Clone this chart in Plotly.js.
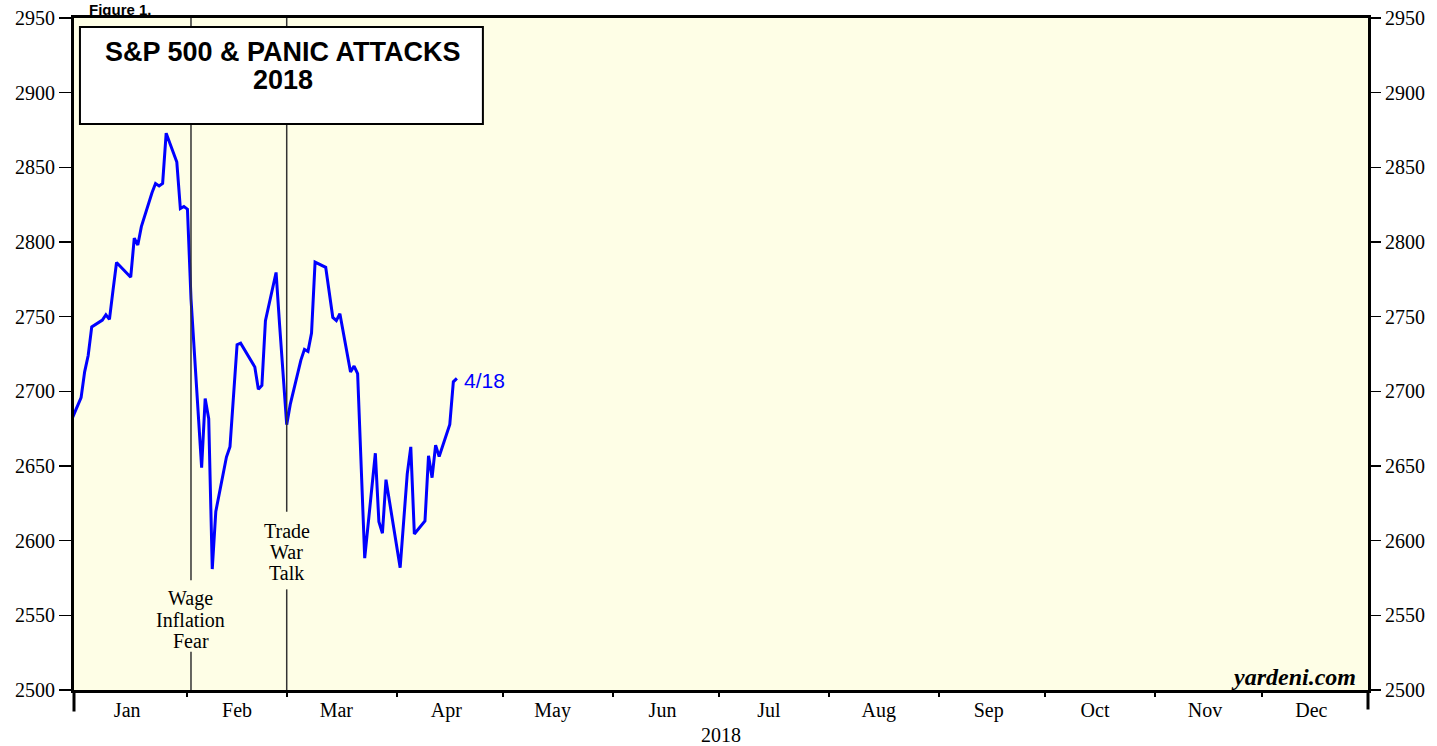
<!DOCTYPE html>
<html>
<head>
<meta charset="utf-8">
<script src="https://cdn.plot.ly/plotly-3.0.1.min.js"></script>
<style>
  html, body { margin: 0; padding: 0; background: #ffffff; }
  #chart { width: 1437px; height: 746px; }
</style>
</head>
<body>
<div id="chart"></div>
<script>
// ---- data ----
const dates = [
  "2017-12-29",
  "2018-01-02","2018-01-03","2018-01-04","2018-01-05","2018-01-08","2018-01-09","2018-01-10","2018-01-11","2018-01-12",
  "2018-01-16","2018-01-17","2018-01-18","2018-01-19","2018-01-22","2018-01-23","2018-01-24","2018-01-25","2018-01-26",
  "2018-01-29","2018-01-30","2018-01-31","2018-02-01","2018-02-02","2018-02-05","2018-02-06","2018-02-07","2018-02-08",
  "2018-02-09","2018-02-12","2018-02-13","2018-02-14","2018-02-15","2018-02-16","2018-02-20","2018-02-21","2018-02-22",
  "2018-02-23","2018-02-26","2018-02-27","2018-02-28","2018-03-01","2018-03-02","2018-03-05","2018-03-06","2018-03-07",
  "2018-03-08","2018-03-09","2018-03-12","2018-03-13","2018-03-14","2018-03-15","2018-03-16","2018-03-19","2018-03-20",
  "2018-03-21","2018-03-22","2018-03-23","2018-03-26","2018-03-27","2018-03-28","2018-03-29","2018-04-02","2018-04-03",
  "2018-04-04","2018-04-05","2018-04-06","2018-04-09","2018-04-10","2018-04-11","2018-04-12","2018-04-13","2018-04-16",
  "2018-04-17","2018-04-18"
];
const sp500 = [
  2673.61,
  2695.81,2713.06,2723.99,2743.15,2747.71,2751.29,2748.23,2767.56,2786.24,
  2776.42,2802.56,2798.03,2810.30,2832.97,2839.13,2837.54,2839.25,2872.87,
  2853.53,2822.43,2823.81,2821.98,2762.13,2648.94,2695.14,2681.66,2581.00,
  2619.55,2656.00,2662.94,2698.63,2731.20,2732.22,2716.26,2701.33,2703.96,
  2747.30,2779.60,2744.28,2713.83,2677.67,2691.25,2720.94,2728.12,2726.80,
  2738.97,2786.57,2783.02,2765.31,2749.48,2747.33,2752.01,2712.92,2716.94,
  2711.93,2643.69,2588.26,2658.55,2612.62,2605.00,2640.87,2581.88,2614.45,
  2644.69,2662.84,2604.47,2613.16,2656.87,2642.19,2663.99,2656.30,2677.84,
  2706.39,2708.64
];
const monthLabels = ["Jan","Feb","Mar","Apr","May","Jun","Jul","Aug","Sep","Oct","Nov","Dec"];
const yTicks = [2500,2550,2600,2650,2700,2750,2800,2850,2900,2950];
const eventDates = ["2018-02-02", "2018-03-01"];
const eventLines = [["Wage","Inflation","Fear"], ["Trade","War","Talk"]];
const eventTextCenter = [2546.9, 2592.4];
const eventGaps = [[2573.5, 2525.6], [2619.4, 2567.4]];
const titleLines = ["S&P 500 & PANIC ATTACKS", "2018"];
const lastLabel = "4/18";

// ---- derived axis ticks ----
const pad = n => String(n).padStart(2, "0");
const midMonth = monthLabels.map((m, i) => `2018-${pad(i + 1)}-15`);
const monthStarts = monthLabels.slice(1).map((m, i) => `2018-${pad(i + 2)}-01`);

const serif = "'Liberation Serif', 'Times New Roman', serif";
const sans = "'Liberation Sans', Arial, sans-serif";
const Y0 = 2500, Y1 = 2950;

const traces = [
  {
    x: dates, y: sp500, type: "scatter", mode: "lines",
    line: {color: "#0000ff", width: 3}, hoverinfo: "skip", showlegend: false
  },
  { x: [], y: [], yaxis: "y2", type: "scatter", showlegend: false }
];

const shapes = [];
eventDates.forEach((d, i) => {
  shapes.push({type: "line", xref: "x", yref: "y", x0: d, x1: d, y0: Y1, y1: eventGaps[i][0],
               line: {color: "#333333", width: 1.5}});
  shapes.push({type: "line", xref: "x", yref: "y", x0: d, x1: d, y0: eventGaps[i][1], y1: Y0,
               line: {color: "#333333", width: 1.5}});
});
// title box
shapes.push({type: "rect", xref: "paper", yref: "paper",
             x0: 0.0046, x1: 0.3160, y0: 0.8423, y1: 0.9866,
             fillcolor: "#ffffff", line: {color: "#000000", width: 2}, layer: "above"});
// y axis lines extending below plot
shapes.push({type: "line", xref: "paper", yref: "paper", x0: 0, x1: 0, y0: 0, y1: -0.032,
             line: {color: "#000", width: 3}});
shapes.push({type: "line", xref: "paper", yref: "paper", x0: 1, x1: 1, y0: 0, y1: -0.029,
             line: {color: "#000", width: 3}});

const annotations = [];
eventDates.forEach((d, i) => {
  eventLines[i].forEach((t, j) => {
    annotations.push({xref: "x", yref: "y", x: d, y: eventTextCenter[i], yshift: (1 - j) * 21,
                      text: t, showarrow: false,
                      font: {family: serif, size: 20, color: "#000"}, xanchor: "center", yanchor: "middle"});
  });
});
annotations.push({xref: "paper", yref: "paper", x: 0.1613, y: 0.9494, text: "<b>" + titleLines[0] + "</b>",
                  showarrow: false, font: {family: sans, size: 27, color: "#000"}, xanchor: "center", yanchor: "middle"});
annotations.push({xref: "paper", yref: "paper", x: 0.1613, y: 0.9077, text: "<b>" + titleLines[1] + "</b>",
                  showarrow: false, font: {family: sans, size: 27, color: "#000"}, xanchor: "center", yanchor: "middle"});
annotations.push({xref: "x", yref: "y", x: dates[dates.length - 1], y: sp500[sp500.length - 1], text: lastLabel,
                  showarrow: false, xanchor: "left", yanchor: "middle", xshift: 5, yshift: -2,
                  font: {family: sans, size: 21, color: "#0000ff"}});
annotations.push({xref: "paper", yref: "paper", x: 0.9923, y: 0.0193, text: "<b><i>yardeni.com</i></b>",
                  showarrow: false, xanchor: "right", yanchor: "middle",
                  font: {family: serif, size: 24, color: "#000"}});
annotations.push({xref: "paper", yref: "paper", x: 0.0108, y: 1.0268, text: "<b>Figure 1.</b>",
                  showarrow: false, xanchor: "left", yanchor: "top", borderpad: 0,
                  font: {family: sans, size: 15, color: "#000"}});

const layout = {
  width: 1437, height: 746,
  margin: {l: 74, r: 69, t: 18, b: 56, pad: 0},
  paper_bgcolor: "#ffffff",
  plot_bgcolor: "#fefee6",
  showlegend: false,
  xaxis: {
    type: "date", range: ["2017-12-31", "2018-12-31"],
    tickmode: "array", tickvals: midMonth, ticktext: monthLabels,
    ticks: "", ticklen: 0, showgrid: false, zeroline: false,
    showline: true, linecolor: "#000", linewidth: 3, mirror: true,
    tickfont: {family: serif, size: 20, color: "#000"},
    minor: {tickmode: "array", tickvals: monthStarts, ticks: "outside", ticklen: 4, tickwidth: 2, tickcolor: "#000", showgrid: false},
    title: {text: "2018", font: {family: serif, size: 20, color: "#000"}, standoff: 9}
  },
  yaxis: {
    range: [Y0, Y1], tickmode: "array", tickvals: yTicks,
    ticks: "outside", ticklen: 12, tickwidth: 1.5, tickcolor: "#000",
    showgrid: false, zeroline: false,
    showline: true, linecolor: "#000", linewidth: 3, mirror: true,
    tickfont: {family: serif, size: 20, color: "#000"}
  },
  yaxis2: {
    range: [Y0, Y1], overlaying: "y", side: "right", tickmode: "array", tickvals: yTicks,
    ticks: "outside", ticklen: 12, tickwidth: 1.5, tickcolor: "#000",
    showgrid: false, zeroline: false, showline: false,
    tickfont: {family: serif, size: 20, color: "#000"}
  },
  shapes: shapes,
  annotations: annotations
};

Plotly.newPlot("chart", traces, layout, {displayModeBar: false, staticPlot: true});
</script>
</body>
</html>
